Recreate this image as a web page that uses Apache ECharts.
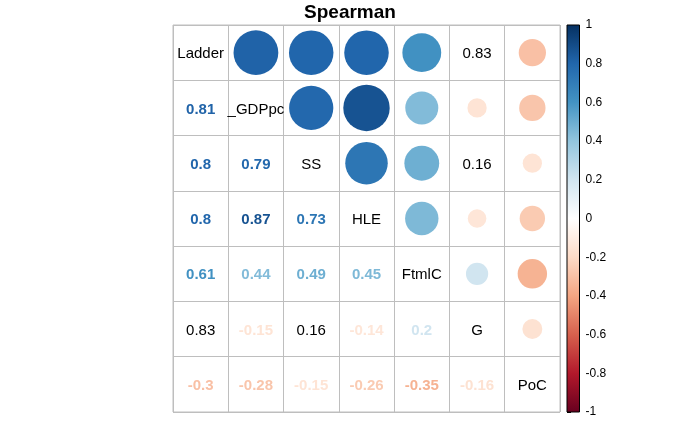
<!DOCTYPE html>
<html>
<head>
<meta charset="utf-8">
<script src="https://cdn.jsdelivr.net/npm/echarts@6/dist/echarts.min.js"></script>
<style>html,body{margin:0;padding:0;background:#fff;}#c{width:700px;height:427px;}</style>
</head>
<body>
<div id="c"></div>
<script>
// ---- data ----
const labels = ['Ladder', '_GDPpc', 'SS', 'HLE', 'FtmlC', 'G', 'PoC'];
// lower triangle of the Spearman matrix, row i holds columns 0..i-1
const corrRows = [
  [],
  [0.81],
  [0.8, 0.79],
  [0.8, 0.87, 0.73],
  [0.61, 0.44, 0.49, 0.45],
  [0.83, -0.15, 0.16, -0.14, 0.2],
  [-0.3, -0.28, -0.15, -0.26, -0.35, -0.16]
];
// cells drawn as plain black numbers in both triangles: [row, col]
const plainCells = [[5, 0], [5, 2]];
const paletteStops = ['#67001F', '#B2182B', '#D6604D', '#F4A582', '#FDDBC7', '#FFFFFF', '#D1E5F0', '#92C5DE', '#4393C3', '#2166AC', '#053061'];
const colorbarTicks = [-1, -0.8, -0.6, -0.4, -0.2, 0, 0.2, 0.4, 0.6, 0.8, 1];

// ---- helpers ----
function hex2rgb(h) { return [parseInt(h.substr(1, 2), 16), parseInt(h.substr(3, 2), 16), parseInt(h.substr(5, 2), 16)]; }
function colorFor(v) {
  const t = (v + 1) / 2 * (paletteStops.length - 1);
  const i = Math.min(Math.floor(t), paletteStops.length - 2);
  const f = t - i;
  const a = hex2rgb(paletteStops[i]), b = hex2rgb(paletteStops[i + 1]);
  const c = a.map((x, k) => Math.round(x + (b[k] - x) * f));
  return 'rgb(' + c.join(',') + ')';
}
function isPlain(r, c) { return plainCells.some(p => p[0] === r && p[1] === c); }

const FONT = '"Liberation Sans", Arial, sans-serif';
const gridLeft = 173, gridTop = 25, gridSize = 387;
const cell = gridSize / labels.length;

const circleData = [], upperText = [], lowerText = [], diagText = [];
labels.forEach((lab, i) => {
  diagText.push({ value: [i, i], label: { formatter: lab } });
  corrRows[i].forEach((v, j) => {
    const plain = isPlain(i, j);
    lowerText.push({
      value: [j, i, v],
      label: {
        formatter: String(v),
        color: plain ? '#000' : colorFor(v),
        fontWeight: plain ? 'normal' : 'bold'
      }
    });
    if (plain) {
      upperText.push({ value: [i, j, v], label: { formatter: String(v) } });
    } else {
      circleData.push({ value: [i, j, v], itemStyle: { color: colorFor(v) } });
    }
  });
});

const chart = echarts.init(document.getElementById('c'), null, { renderer: 'canvas' });
const gradStops = colorbarTicks.map((t, k) => ({ offset: (1 - t) / 2, color: paletteStops[k] }));

const textSeries = (data, extraLabel) => ({
  type: 'scatter', xAxisIndex: 0, yAxisIndex: 0, data: data, symbolSize: 0,
  itemStyle: { opacity: 1 }, emphasis: { disabled: true }, silent: true,
  label: Object.assign({ show: true, position: 'inside', offset: [0, 1.5], fontSize: 15, fontFamily: FONT, opacity: 1, textBorderWidth: 0 }, extraLabel)
});

const option = {
  backgroundColor: '#fff',
  animation: false,
  textStyle: { fontFamily: FONT },
  title: {
    text: 'Spearman', left: 'center', top: -2,
    textStyle: { fontFamily: FONT, fontSize: 19, fontWeight: 'bold', color: '#000' }
  },
  grid: [
    { left: gridLeft, top: gridTop, width: gridSize, height: gridSize, show: true, borderColor: '#BEBEBE', borderWidth: 1, backgroundColor: 'transparent' },
    { left: 567, top: gridTop, width: 12.5, height: gridSize, show: false }
  ],
  xAxis: [
    { gridIndex: 0, type: 'category', data: labels, boundaryGap: true,
      axisLine: { show: false }, axisTick: { show: false }, axisLabel: { show: false },
      splitLine: { show: true, interval: 0, lineStyle: { color: '#BEBEBE', width: 1 } } },
    { gridIndex: 1, type: 'value', min: 0, max: 1, show: false }
  ],
  yAxis: [
    { gridIndex: 0, type: 'category', data: labels, inverse: true, boundaryGap: true,
      axisLine: { show: false }, axisTick: { show: false }, axisLabel: { show: false },
      splitLine: { show: true, interval: 0, lineStyle: { color: '#BEBEBE', width: 1 } } },
    { gridIndex: 1, type: 'value', min: -1, max: 1, interval: 0.2, position: 'right',
      axisLine: { show: false },
      axisTick: { show: true, length: 4, lineStyle: { color: '#000' } },
      axisLabel: { show: true, color: '#000', fontSize: 12, fontFamily: FONT, margin: 6,
        formatter: v => String(Math.round(v * 10) / 10) },
      splitLine: { show: false } }
  ],
  series: [
    { type: 'scatter', xAxisIndex: 0, yAxisIndex: 0, data: circleData,
      symbol: 'circle', silent: true,
      symbolSize: d => 0.9 * Math.sqrt(Math.abs(d[2])) * cell,
      itemStyle: { opacity: 1 }, emphasis: { disabled: true } },
    textSeries(lowerText, {}),
    textSeries(upperText, { color: '#000' }),
    textSeries(diagText, { color: '#000' }),
    { type: 'custom', xAxisIndex: 1, yAxisIndex: 1, silent: true,
      data: [[0, colorbarTicks[colorbarTicks.length - 1], 1, colorbarTicks[0]]],
      renderItem: (params, api) => {
        const p0 = api.coord([api.value(0), api.value(1)]);
        const p1 = api.coord([api.value(2), api.value(3)]);
        return {
          type: 'rect',
          shape: { x: p0[0], y: p0[1], width: p1[0] - p0[0], height: p1[1] - p0[1] },
          style: {
            fill: new echarts.graphic.LinearGradient(0, 0, 0, 1, gradStops),
            stroke: '#000', lineWidth: 1
          }
        };
      }
    }
  ]
};
chart.setOption(option);
</script>
</body>
</html>
